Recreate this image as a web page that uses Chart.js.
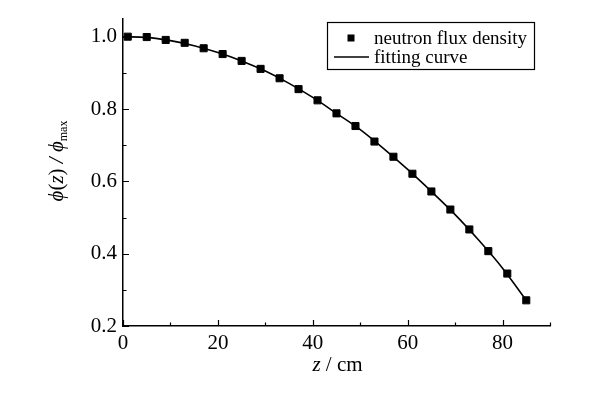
<!DOCTYPE html>
<html lang="en">
<head>
  <meta charset="UTF-8">
  <title>Neutron flux density distribution</title>
  <script src="https://cdn.jsdelivr.net/npm/chart.js"></script>
  <style>
    body { margin: 0; background: #fff; }
    #fluxChart { display: block; }
  </style>
</head>
<body>
  <canvas id="fluxChart" width="598" height="396"></canvas>

  <script>
    // measured points
    const zCm = [1, 5, 9, 13, 17, 21, 25, 29, 33, 37, 41, 45, 49, 53, 57, 61, 65, 69, 73, 77, 81, 85];
    const fluxRatio = [1.000, 0.999, 0.991, 0.983, 0.968, 0.952, 0.933, 0.911, 0.885, 0.855, 0.824,
                       0.788, 0.753, 0.710, 0.668, 0.621, 0.572, 0.522, 0.467, 0.407, 0.345, 0.271];
    // fitted curve
    const fitZ = [0, 5, 10, 15, 20, 25, 30, 35, 40, 45, 50, 55, 60, 65, 70, 75, 80, 85];
    const fitPhi = [1.000, 0.998, 0.989, 0.975, 0.956, 0.933, 0.905, 0.871, 0.832, 0.788, 0.743,
                    0.690, 0.633, 0.572, 0.508, 0.437, 0.360, 0.271];
    const seriesLabels = ['neutron flux density', 'fitting curve'];
    const xTickStep = 20;
    const yTickStep = 0.2;

    const serif = '"Liberation Serif", "Times New Roman", serif';

    // inward major/minor ticks drawn from the scales
    const inwardTicks = {
      id: 'inwardTicks',
      afterDraw(chart) {
        const c = chart.ctx, x = chart.scales.x, y = chart.scales.y;
        c.save();
        c.strokeStyle = '#000';
        c.lineWidth = 1.2;
        c.beginPath();
        for (let v = x.min; v <= x.max + 1e-9; v += xTickStep / 2) {
          const px = Math.round(x.getPixelForValue(v)) + 0.5;
          const major = Math.abs(v / xTickStep - Math.round(v / xTickStep)) < 1e-6;
          c.moveTo(px, y.bottom);
          c.lineTo(px, y.bottom - (major ? 6 : 3.5));
        }
        for (let v = y.min; v <= y.max + 1e-9; v += yTickStep / 2) {
          const py = Math.round(y.getPixelForValue(v)) + 0.5;
          const major = Math.abs(v / yTickStep - Math.round(v / yTickStep)) < 1e-6;
          c.moveTo(x.left, py);
          c.lineTo(x.left + (major ? 6 : 3.5), py);
        }
        c.stroke();
        c.restore();
      }
    };

    // axis titles with italic symbols and subscript
    const axisTitles = {
      id: 'axisTitles',
      afterDraw(chart) {
        const c = chart.ctx;
        const x = chart.scales.x;
        c.save();
        c.fillStyle = '#000';
        c.textBaseline = 'alphabetic';

        const drawRun = (parts, startX, baseY) => {
          let cx = startX;
          parts.forEach(p => {
            c.font = p.font;
            c.fillText(p.t, cx, baseY + (p.dy || 0));
            cx += c.measureText(p.t).width;
          });
          return cx;
        };
        const runWidth = parts => parts.reduce((w, p) => { c.font = p.font; return w + c.measureText(p.t).width; }, 0);

        const it = 'italic 21px ' + serif;
        const rm = '21px ' + serif;
        const sub = '12px ' + serif;

        const xParts = [{ t: 'z', font: it }, { t: ' / cm', font: rm }];
        const xw = runWidth(xParts);
        drawRun(xParts, (x.left + x.right) / 2 - xw / 2 + 1, 371);

        const yParts = [
          { t: '\u03D5', font: it }, { t: '(', font: rm }, { t: 'z', font: it }, { t: ')', font: rm },
          { t: ' / ', font: it }, { t: '\u03D5', font: it }, { t: 'max', font: sub, dy: 4 }
        ];
        const yw = runWidth(yParts);
        c.translate(63, 161);
        c.rotate(-Math.PI / 2);
        drawRun(yParts, -yw / 2, 0);
        c.restore();
      }
    };

    // boxed legend inside the plot
    const boxLegend = {
      id: 'boxLegend',
      afterDraw(chart) {
        const c = chart.ctx;
        c.save();
        c.strokeStyle = '#000';
        c.lineWidth = 1.2;
        c.strokeRect(327.5, 22.5, 207, 47);
        c.fillStyle = '#000';
        c.fillRect(347.5, 34.5, 7, 7);
        c.lineWidth = 1.6;
        c.beginPath();
        c.moveTo(334, 57);
        c.lineTo(369, 57);
        c.stroke();
        c.font = '19px ' + serif;
        c.textBaseline = 'alphabetic';
        c.fillText(seriesLabels[0], 374, 44);
        c.fillText(seriesLabels[1], 374, 63);
        c.restore();
      }
    };

    const ctx = document.getElementById('fluxChart');
    new Chart(ctx, {
      type: 'scatter',
      data: {
        datasets: [{
          label: seriesLabels[0],
          data: zCm.map((z, i) => ({ x: z, y: fluxRatio[i] })),
          pointStyle: 'rect',
          pointRadius: 5,
          pointBackgroundColor: '#000',
          pointBorderColor: '#000',
          pointBorderWidth: 1,
          showLine: false,
          order: 0
        }, {
          label: seriesLabels[1],
          data: fitZ.map((z, i) => ({ x: z, y: fitPhi[i] })),
          showLine: true,
          borderColor: '#000',
          borderWidth: 1.6,
          pointRadius: 0,
          tension: 0.4,
          cubicInterpolationMode: 'monotone',
          order: 1
        }]
      },
      options: {
        responsive: false,
        animation: false,
        layout: { padding: { left: 0, right: 48, top: 7, bottom: 0 } },
        plugins: {
          legend: { display: false },
          tooltip: { enabled: false }
        },
        scales: {
          x: {
            type: 'linear',
            min: 0,
            max: 90,
            grid: { display: false, drawTicks: false },
            border: { display: true, color: '#000', width: 1.5 },
            ticks: {
              stepSize: xTickStep,
              includeBounds: false,
              padding: 5,
              color: '#000',
              font: { family: serif, size: 21 }
            },
            afterFit(scale) { scale.height = 70; }
          },
          y: {
            min: 0.2,
            max: 1.05,
            grid: { display: false, drawTicks: false },
            border: { display: true, color: '#000', width: 1.5 },
            ticks: {
              stepSize: yTickStep,
              includeBounds: false,
              padding: 6,
              color: '#000',
              font: { family: serif, size: 21 },
              callback: v => v.toFixed(1)
            },
            afterFit(scale) { scale.width = 123; }
          }
        }
      },
      plugins: [inwardTicks, axisTitles, boxLegend]
    });
  </script>
</body>
</html>
